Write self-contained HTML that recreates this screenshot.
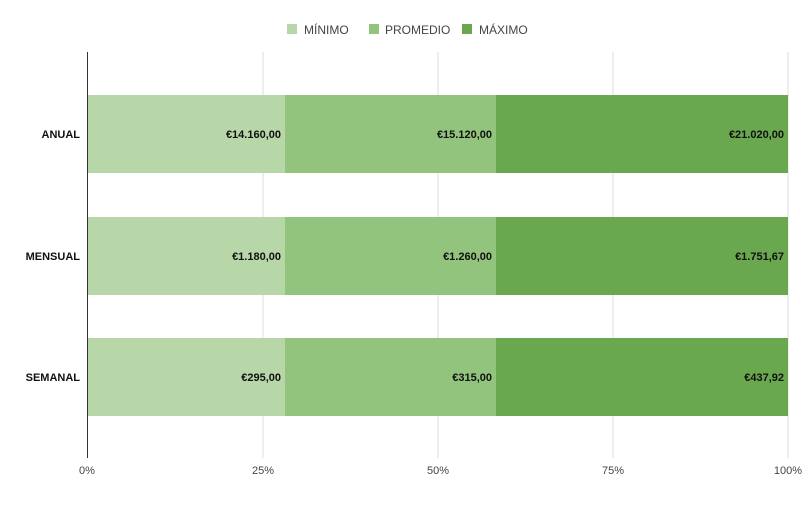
<!DOCTYPE html><html><head><style>body{margin:0;background:#fff}</style></head><body>
<svg width="811" height="500" xmlns="http://www.w3.org/2000/svg" font-family="Liberation Sans, Arial, sans-serif">
<rect width="811" height="500" fill="#fff"/>
<g stroke="#dcdcdc" stroke-width="1">
<line x1="263" y1="52" x2="263" y2="458"/><line x1="438" y1="52" x2="438" y2="458"/><line x1="613" y1="52" x2="613" y2="458"/><line x1="788" y1="52" x2="788" y2="458"/>
</g>
<g font-size="12" fill="#444">
<rect x="287" y="24" width="10" height="10" fill="#b7d7a8"/><text x="304" y="34">MÍNIMO</text>
<rect x="369" y="24" width="10" height="10" fill="#93c47d"/><text x="385" y="34">PROMEDIO</text>
<rect x="462" y="24" width="10" height="10" fill="#6aa84f"/><text x="479" y="34">MÁXIMO</text>
</g>
<g>
<rect x="87" y="95" width="198" height="78" fill="#b7d7a8"/><rect x="285" y="95" width="211" height="78" fill="#93c47d"/><rect x="496" y="95" width="292" height="78" fill="#6aa84f"/>
<rect x="87" y="217" width="198" height="78" fill="#b7d7a8"/><rect x="285" y="217" width="211" height="78" fill="#93c47d"/><rect x="496" y="217" width="292" height="78" fill="#6aa84f"/>
<rect x="87" y="338" width="198" height="78" fill="#b7d7a8"/><rect x="285" y="338" width="211" height="78" fill="#93c47d"/><rect x="496" y="338" width="292" height="78" fill="#6aa84f"/>
</g>
<line x1="87.5" y1="52" x2="87.5" y2="458" stroke="#333"/>
<g font-size="11" font-weight="bold" fill="#111" text-anchor="end">
<text x="281" y="138">€14.160,00</text><text x="492" y="138">€15.120,00</text><text x="784" y="138">€21.020,00</text>
<text x="281" y="260">€1.180,00</text><text x="492" y="260">€1.260,00</text><text x="784" y="260">€1.751,67</text>
<text x="281" y="381">€295,00</text><text x="492" y="381">€315,00</text><text x="784" y="381">€437,92</text>
<text x="80" y="138">ANUAL</text><text x="80" y="260">MENSUAL</text><text x="80" y="381">SEMANAL</text>
</g>
<g font-size="11" fill="#444" text-anchor="middle">
<text x="87" y="474">0%</text><text x="263" y="474">25%</text><text x="438" y="474">50%</text><text x="613" y="474">75%</text><text x="788" y="474">100%</text>
</g>
</svg>
</body></html>
